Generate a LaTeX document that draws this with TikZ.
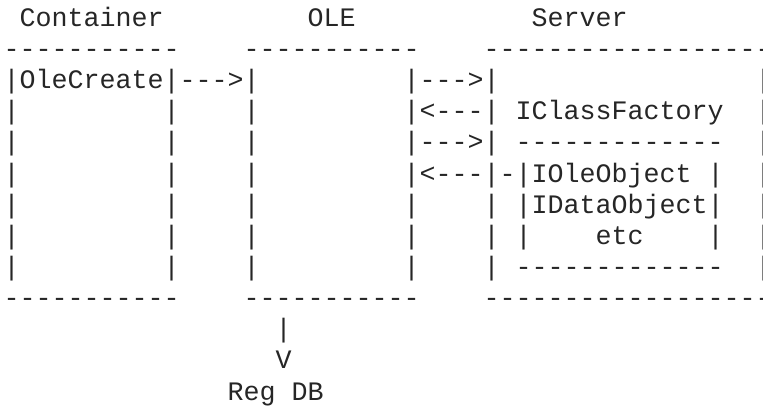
\documentclass[tikz,border=0pt]{standalone}
\usepackage{fontspec}
\setmonofont{Liberation Mono}
\tikzset{
  ascii/.style={anchor=base west, inner sep=0pt, outer sep=0pt, text=black!85,
    font=\ttfamily\fontsize{26.667pt}{31pt}\selectfont},
}
\begin{document}
\begin{tikzpicture}[x=16pt, y=-31.15pt]
\useasboundingbox (0pt,0pt) rectangle (763pt,-406pt);
% one unit in x is one character cell, one unit in y is one text line
\begin{scope}[shift={(3.7pt,-26.3pt)}]
  % column titles
  \node[ascii] (container) at (1,0) {Container};
  \node[ascii] (ole)       at (19,0) {OLE};
  \node[ascii] (server)    at (33,0) {Server};

  % top edges
  \node[ascii] (container-top) at (0,1)  {-----------};
  \node[ascii] (ole-top)       at (15,1) {-----------};
  \node[ascii] (server-top)    at (30,1) {------------------};

  % side walls
  \foreach \r in {3,...,8} {
    \node[ascii] (container-left-\r)  at (0,\r)  {|};
    \node[ascii] (container-right-\r) at (10,\r) {|};
    \node[ascii] (ole-left-\r)        at (15,\r) {|};
  }
  \foreach \r in {6,7,8} {
    \node[ascii] (ole-right-\r)   at (25,\r) {|};
    \node[ascii] (server-left-\r) at (30,\r) {|};
  }
  \foreach \r in {2,...,8} {
    \node[ascii] (server-right-\r) at (47,\r) {|};
  }

  % calls between the parts
  \node[ascii] (create)  at (0,2)  {|OleCreate|--->|};
  \node[ascii] (call-1)  at (25,2) {|--->|};
  \node[ascii] (reply-1) at (25,3) {|<---|};
  \node[ascii] (call-2)  at (25,4) {|--->|};
  \node[ascii] (reply-2) at (25,5) {|<---|-|IOleObject};

  % server interfaces
  \node[ascii] (factory)       at (32,3) {IClassFactory};
  \node[ascii] (iface-top)     at (32,4) {-------------};
  \node[ascii] (iface-right-5) at (44,5) {|};
  \node[ascii] (idata)         at (32,6) {|IDataObject|};
  \node[ascii] (iface-left-7)  at (32,7) {|};
  \node[ascii] (etc)           at (37,7) {etc};
  \node[ascii] (iface-right-7) at (44,7) {|};
  \node[ascii] (iface-bottom)  at (32,8) {-------------};

  % bottom edges
  \node[ascii] (container-bottom) at (0,9)  {-----------};
  \node[ascii] (ole-bottom)       at (15,9) {-----------};
  \node[ascii] (server-bottom)    at (30,9) {------------------};

  % registry lookup
  \node[ascii] (lookup)     at (17,10) {|};
  \node[ascii] (lookup-tip) at (17,11) {V};
  \node[ascii] (reg)        at (14,12) {Reg};
  \node[ascii] (db)         at (18,12) {DB};
\end{scope}
\end{tikzpicture}
\end{document}
